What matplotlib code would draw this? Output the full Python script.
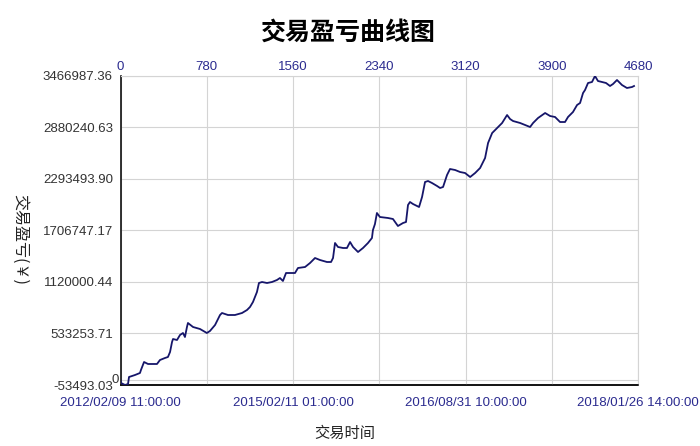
import matplotlib
matplotlib.use("Agg")
import matplotlib.pyplot as plt

plt.rcParams['font.family'] = ['Liberation Sans', 'Noto Sans CJK SC', 'DejaVu Sans']

title = "交易盈亏曲线图"
x_label = "交易时间"
y_label = "交易盈亏(￥)"

# trade number vs cumulative profit
trades = [0, 5, 41, 68, 77, 131, 176, 185, 213, 249, 285, 330, 357, 402, 429, 448,
          466, 475, 511, 538, 565, 583, 601, 610, 656, 719, 781, 809, 855, 900, 918,
          972, 1035, 1099, 1144, 1171, 1198, 1234, 1252, 1280, 1325, 1370, 1415, 1442,
          1469, 1497, 1533, 1578, 1605, 1669, 1714, 1759, 1804, 1867, 1904, 1922, 1940,
          1967, 2013, 2048, 2076, 2103, 2148, 2193, 2238, 2274, 2283, 2301, 2319, 2346,
          2419, 2464, 2509, 2555, 2582, 2600, 2618, 2645, 2681, 2700, 2727, 2754, 2781,
          2817, 2863, 2890, 2917, 2953, 2980, 3026, 3071, 3116, 3162, 3207, 3252, 3297,
          3324, 3361, 3406, 3451, 3496, 3523, 3550, 3614, 3659, 3704, 3731, 3776, 3840,
          3885, 3930, 3975, 4020, 4047, 4092, 4129, 4156, 4183, 4201, 4228, 4264, 4291,
          4318, 4391, 4427, 4454, 4490, 4535, 4580, 4626, 4644]
profit = [0, -30700, -53493.03, -42100, 37650, 60400, 83200, 117400, 208500, 185800,
          185800, 185800, 231300, 254100, 265500, 322500, 436400, 470600, 459200,
          516200, 539000, 493400, 607300, 652900, 607300, 584500, 539000, 561700,
          630100, 744000, 766800, 744000, 744000, 766800, 801000, 835200, 892100,
          1006100, 1108600, 1120000, 1108600, 1120000, 1142800, 1165600, 1131400,
          1222500, 1222500, 1222500, 1279500, 1290900, 1336500, 1393400, 1370700,
          1347900, 1347900, 1393400, 1564300, 1518800, 1507400, 1507400, 1575700,
          1518800, 1461800, 1507400, 1564300, 1621300, 1712400, 1780000, 1906100,
          1860600, 1849200, 1837800, 1758000, 1792200, 1803600, 1997300, 2031500,
          2008700, 1985900, 1974500, 2088400, 2259300, 2270700, 2247900, 2213700,
          2190900, 2202300, 2339200, 2407400, 2396000, 2373200, 2361800, 2316300,
          2361800, 2418800, 2532700, 2703600, 2817500, 2874500, 2931500, 3022600,
          2977000, 2954200, 2931500, 2908700, 2885900, 2931500, 2988400, 3045400,
          3011200, 2999800, 2942800, 2942800, 2999800, 3056800, 3136500, 3159300,
          3273300, 3307400, 3387200, 3398600, 3466987.36, 3410000, 3387200, 3353000,
          3375800, 3421400, 3364400, 3330300, 3341600, 3353000]

y_ticks = [-53493.03, 533253.71, 1120000.44, 1706747.17, 2293493.90, 2880240.63, 3466987.36]
top_ticks = [0, 780, 1560, 2340, 3120, 3900, 4680]
date_ticks = [0, 1560, 3120, 4680]
date_labels = ["2012/02/09 11:00:00", "2015/02/11 01:00:00",
               "2016/08/31 10:00:00", "2018/01/26 14:00:00"]

fig = plt.figure(figsize=(7.0, 4.46), dpi=100)
ax = fig.add_axes([120.5 / 700, 61 / 446, 517.5 / 700, 309 / 446])

ax.plot(trades, profit, color="#16166a", linewidth=1.3, zorder=3)

ax.set_xlim(top_ticks[0], top_ticks[-1])
ax.set_ylim(y_ticks[0], y_ticks[-1])

ax.set_yticks(y_ticks)
ax.set_yticklabels([f"{v:.2f}" for v in y_ticks], fontsize=9.5, color="#333333")
ax.axhline(0, color="#d4d4d4", linewidth=0.8, zorder=1)
ax.text(-0.003, 0, "0", transform=ax.get_yaxis_transform(), ha="right",
        va="center", fontsize=9.5, color="#333333")

ax.xaxis.tick_top()
ax.set_xticks(top_ticks)
ax.set_xticklabels([str(t) for t in top_ticks], fontsize=9.5, color="#2b2b8f")
ax.tick_params(axis="y", length=0, pad=5.5)
ax.tick_params(axis="x", length=0, pad=2)

sec = ax.secondary_xaxis("bottom")
sec.set_xticks(date_ticks)
sec.set_xticklabels(date_labels, fontsize=9.5, color="#2b2b8f")
sec.tick_params(length=0, pad=9)
sec.spines["bottom"].set_color("#111111")
sec.spines["bottom"].set_linewidth(1.2)

ax.grid(True, color="#d4d4d4", linewidth=0.8, zorder=0)
for s in ["top", "right"]:
    ax.spines[s].set_color("#d4d4d4")
    ax.spines[s].set_linewidth(0.8)
ax.spines["left"].set_color("#111111")
ax.spines["left"].set_linewidth(1.2)
ax.spines["bottom"].set_color("#111111")
ax.spines["bottom"].set_linewidth(1.2)

fig.text(348 / 700, 1 - 33 / 446, title, ha="center", va="center",
         fontsize=18, fontweight="bold", family=["Noto Sans CJK SC"])
fig.text(345 / 700, 1 - 433 / 446, x_label, ha="center", va="center",
         fontsize=11, family=["Noto Sans CJK SC", "DejaVu Sans"], color="#222222")
fig.text(20 / 700, 1 - 240 / 446, y_label, ha="center", va="center",
         rotation=270, fontsize=11.5, family=["Noto Sans CJK SC", "DejaVu Sans"],
         color="#222222")

fig.savefig("out.png", dpi=100, facecolor="white")
